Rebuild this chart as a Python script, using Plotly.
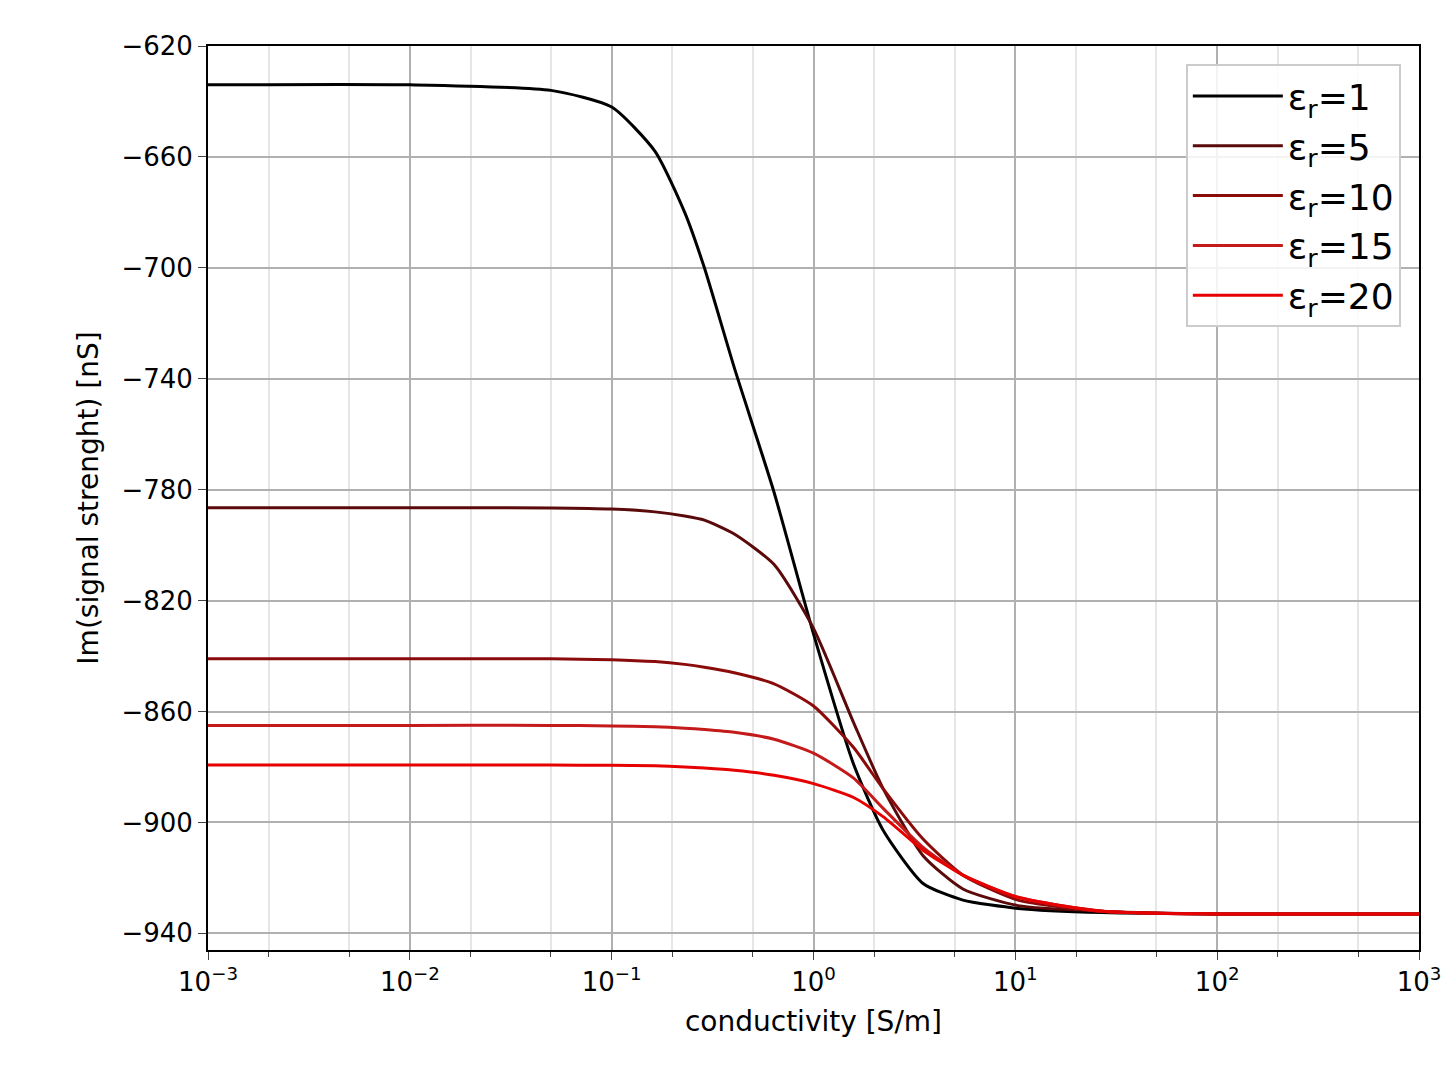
import plotly.graph_objects as go

conductivity = [0.001, 0.01, 0.05, 0.1, 0.164, 0.23, 0.288, 0.405, 0.638, 1.0, 1.58, 2.22, 3.49, 5.5, 10.3, 26.9, 100, 1000]
eps1  = [-634, -634, -636, -642, -658, -680, -700, -736, -781, -832, -879, -903, -922, -928, -931, -932.5, -933, -933]
eps5  = [-786.5, -786.5, -786.6, -787, -788, -789.5, -791, -796, -807, -830, -864, -888, -912, -924, -930, -932, -933, -933]
eps10 = [-841, -841, -841, -841.3, -842, -843, -844, -846, -850, -858, -873, -888, -906, -919, -928, -932, -933, -933]
eps15 = [-865, -865, -865, -865.2, -865.5, -866, -866.5, -867.5, -870, -875, -884, -895, -909, -919, -927, -932, -933, -933]
eps20 = [-879.3, -879.3, -879.3, -879.4, -879.6, -880, -880.4, -881.2, -883, -886, -891, -898, -910, -919, -927, -932, -933, -933]
names = ["ε<sub>r</sub>=1", "ε<sub>r</sub>=5", "ε<sub>r</sub>=10", "ε<sub>r</sub>=15", "ε<sub>r</sub>=20"]
colors = ["#000000", "#5a0a0a", "#8b0b0b", "#c41a1a", "#e60000"]
tickvals = [1e-3, 1e-2, 1e-1, 1, 10, 100, 1000]
ticktext = ["10<sup>−3</sup>", "10<sup>−2</sup>", "10<sup>−1</sup>", "10<sup>0</sup>", "10<sup>1</sup>", "10<sup>2</sup>", "10<sup>3</sup>"]
yticks = list(range(-940, -619, 40))

fig = go.Figure()
for n, c, ys in zip(names, colors, [eps1, eps5, eps10, eps15, eps20]):
    fig.add_trace(go.Scatter(x=conductivity, y=ys, name=n, mode="lines",
                             line=dict(color=c, width=3, shape="spline", smoothing=0.6)))

fig.update_layout(
    width=1454, height=1070, paper_bgcolor="white", plot_bgcolor="white",
    margin=dict(l=200, r=43, t=38, b=128),
    font=dict(family="DejaVu Sans", color="black", size=26),
    legend=dict(x=0.985, y=0.98, xanchor="right", yanchor="top", font=dict(size=36),
                itemwidth=90, tracegroupgap=14,
                bordercolor="#cccccc", borderwidth=2, bgcolor="rgba(255,255,255,0.85)"),
)
fig.update_xaxes(type="log", range=[-3, 3], tickvals=tickvals, ticktext=ticktext,
                 showgrid=True, gridcolor="#b0b0b0", gridwidth=1.5,
                 minor=dict(showgrid=True, gridcolor="#e6e6e6", ticks="outside", ticklen=5),
                 ticks="outside", ticklen=8, showline=True, linecolor="black", linewidth=2, mirror=True,
                 title=dict(text="conductivity [S/m]", font=dict(size=28)), zeroline=False)
fig.update_yaxes(range=[-946, -620], tickvals=yticks, ticktext=[str(v).replace("-", "−") for v in yticks],
                 showgrid=True, gridcolor="#b0b0b0", gridwidth=1.5,
                 ticks="outside", ticklen=8, showline=True, linecolor="black", linewidth=2, mirror=True,
                 title=dict(text="Im(signal strenght) [nS]", font=dict(size=28)), zeroline=False)
fig.write_html("out.html")
